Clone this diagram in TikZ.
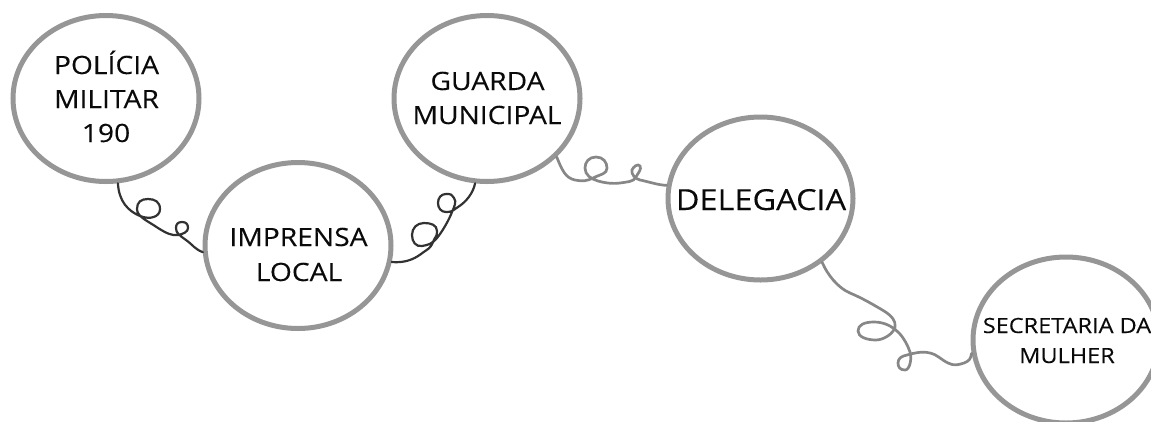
\documentclass[tikz,border=0pt]{standalone}
\usepackage{fontspec}
\setmainfont{Open Sans}[FakeStretch=1.12, FakeBold=0.12]
\usetikzlibrary{shapes.geometric}
\definecolor{ringgray}{RGB}{150,150,150}
\definecolor{darkline}{RGB}{50,50,50}
\definecolor{lightline}{RGB}{135,135,135}
\definecolor{txt}{RGB}{10,10,10}
\tikzset{
  ring/.style={ellipse, draw=ringgray, line width=5pt, fill=white, minimum width=186pt, minimum height=166pt, inner sep=0pt},
  lbl/.style={anchor=base, inner sep=0pt, text=txt, font=\fontsize{25.2}{30}\selectfont},
  biglbl/.style={lbl, font=\fontsize{29}{34}\selectfont},
  smalllbl/.style={lbl, font=\fontsize{21}{26}\selectfont},
  darkcurl/.style={draw=darkline, line width=2.2pt, line cap=round},
  lightcurl/.style={draw=lightline, line width=2.7pt, line cap=round}
}
\begin{document}
\begin{tikzpicture}[x=1pt, y=-1pt]
\useasboundingbox (0,0) rectangle (1151,421);

\node[ring] (pm) at (106,98.5) {};
\node[ring] (imp) at (298,245.5) {};
\node[ring] (gm) at (487,98.5) {};
\node[ring, minimum width=185pt, minimum height=163pt] (del) at (760.5,198.5) {};
\node[ring] (sec) at (1066,340) {};

% Connector 1
\draw[darkcurl] (pm.-82) .. controls +(1,18) and +(-12,-5) .. (140,216)
  .. controls +(10,4) and +(0,8) .. (160,209)
  .. controls +(0,-7) and +(7,0) .. (148,199)
  .. controls +(-7,0) and +(0,-7) .. (137,209)
  .. controls +(0,8) and +(-10,-7) .. (158,228)
  .. controls +(8,5) and +(-6,1) .. (178,235)
  .. controls +(5,-1) and +(0,4) .. (188,228)
  .. controls +(0,-4) and +(4,0) .. (182,222)
  .. controls +(-4,0) and +(0,-4) .. (176,228)
  .. controls +(0,5) and +(-7,-5) .. (186,240)
  .. controls +(7,5) and +(-8,-3) .. (imp.184);

% Connector 2
\draw[darkcurl] (imp.-10) .. controls +(12,1) and +(-8,6) .. (421,254)
  .. controls +(8,-6) and +(-3,7) .. (433,242)
  .. controls +(3,-7) and +(0,6) .. (437,231)
  .. controls +(0,-6) and +(7,0) .. (424,223)
  .. controls +(-7,0) and +(0,-7) .. (412,235)
  .. controls +(0,7) and +(-6,1) .. (422,246)
  .. controls +(6,-1) and +(-5,6) .. (437,238)
  .. controls +(5,-6) and +(-3,8) .. (452,212)
  .. controls +(2,-5) and +(3,4) .. (454,198)
  .. controls +(-3,-4) and +(5,0) .. (446,194)
  .. controls +(-5,0) and +(0,-5) .. (438,203)
  .. controls +(0,5) and +(-5,0) .. (446,212)
  .. controls +(6,0) and +(-6,4) .. (458,207)
  .. controls +(8,-5) and +(-2,10) .. (gm.-98);

% Connector 3
\draw[lightcurl] (gm.-40) .. controls +(5,12) and +(-10,-2) .. (575,180)
  .. controls +(8,1.5) and +(-6,3) .. (593,178)
  .. controls +(8,-4) and +(0,6) .. (607,168)
  .. controls +(0,-6) and +(7,0) .. (596,157)
  .. controls +(-7,0) and +(0,-6) .. (585,168)
  .. controls +(0,7) and +(-7,-2) .. (598,181)
  .. controls +(7,2) and +(-8,1) .. (620,183)
  .. controls +(6,-1) and +(-2,5) .. (636,177)
  .. controls +(2,-4) and +(2,3) .. (640,166)
  .. controls +(-2,-3) and +(1,-3) .. (632,170)
  .. controls +(-1,4) and +(-5,-1) .. (640,180)
  .. controls +(6,1) and +(-8,0) .. (del.172);

% Connector 4
\draw[lightcurl] (del.-46) .. controls +(5,12) and +(-12,-5) .. (850,293)
  .. controls +(12,5) and +(-10,-6) .. (884,311)
  .. controls +(8,5) and +(1,-6) .. (895,327)
  .. controls +(-1,6) and +(8,0) .. (876,340)
  .. controls +(-9,0) and +(0,6) .. (858,331)
  .. controls +(0,-6) and +(-10,0) .. (874,322)
  .. controls +(10,0) and +(-7,-7) .. (899,333)
  .. controls +(5,5) and +(-2,-6) .. (910,352)
  .. controls +(2,6) and +(5,0) .. (905,370)
  .. controls +(-5,0) and +(0,4) .. (898,363)
  .. controls +(0,-5) and +(-5,1) .. (907,355)
  .. controls +(7,-2) and +(-8,-2) .. (930,353)
  .. controls +(8,2) and +(-8,-4) .. (948,363)
  .. controls +(6,3) and +(-6,2) .. (964,363)
  .. controls +(5,-2) and +(-1,6) .. (sec.188);

% labels
\node[lbl] (t1) at (106.5,74) {POLÍCIA};
\node[lbl] (t2) at (106.5,108) {MILITAR};
\node[lbl] (t3) at (106,142) {190};
\node[lbl] (t4) at (298.5,246) {IMPRENSA};
\node[lbl] (t5) at (299,281) {LOCAL};
\node[lbl] (t6) at (487.5,90) {GUARDA};
\node[lbl] (t7) at (487,124) {MUNICIPAL};
\node[biglbl] (t8) at (761,210) {DELEGACIA};
\node[smalllbl] (t9) at (1067,333) {SECRETARIA DA};
\node[smalllbl] (t10) at (1067,363) {MULHER};
\end{tikzpicture}
\end{document}
